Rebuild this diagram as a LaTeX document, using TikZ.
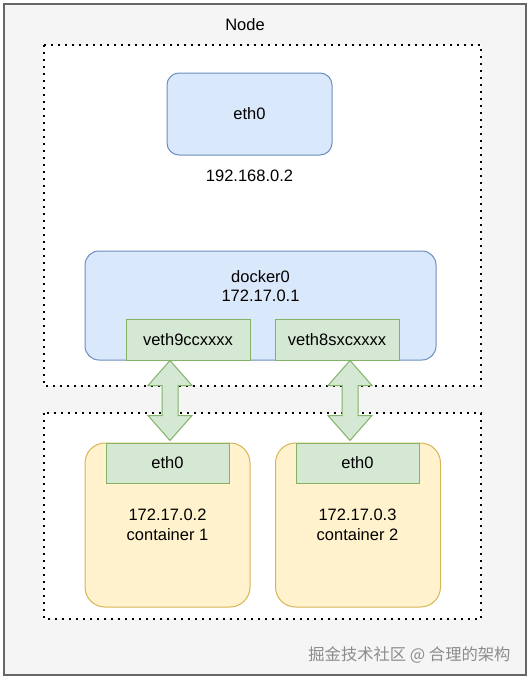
\documentclass[tikz,border=0pt]{standalone}
\usepackage{fontspec}
\setmainfont{Liberation Sans}
\newfontfamily\cjkfont{Noto Sans CJK SC}
\usetikzlibrary{positioning}
\definecolor{blueFill}{HTML}{DAE8FC}
\definecolor{blueLine}{HTML}{6C8EBF}
\definecolor{greenFill}{HTML}{D5E8D4}
\definecolor{greenLine}{HTML}{82B366}
\definecolor{yellowFill}{HTML}{FFF2CC}
\definecolor{yellowLine}{HTML}{D6B656}
\definecolor{frameFill}{HTML}{F5F5F5}
\definecolor{frameLine}{HTML}{666666}
\tikzset{
font=\fontsize{16.5}{19.5}\selectfont, % draw.io default look, scaled
hostif/.style={draw=blueLine, fill=blueFill, line width=1pt, rounded corners=12pt, minimum width=165pt, minimum height=82pt},
bridge/.style={draw=blueLine, fill=blueFill, line width=1pt, rounded corners=14pt, minimum width=351pt, minimum height=109pt},
veth/.style={draw=greenLine, fill=greenFill, line width=1pt, minimum height=41pt},
container/.style={draw=yellowLine, fill=yellowFill, line width=1pt, rounded corners=20pt, minimum width=165pt, minimum height=164pt},
zone/.style={draw=black, fill=white, line width=2.4pt, dash pattern=on 2.4pt off 4.6pt},
pipe/.style={draw=greenLine, fill=greenFill, line width=1pt, line join=miter},
}

\begin{document}
\begin{tikzpicture}[x=1pt,y=-1pt]
\useasboundingbox (0,0) rectangle (531,683);
\fill[white] (0,0) rectangle (531,683);
% outer host frame
\draw[draw=frameLine, fill=frameFill, line width=1.5pt] (4,4) rectangle (526,675);
\node (nodetitle) at (245,25) {Node};
\draw[zone] (44,45) rectangle (481,386);
\draw[zone] (44,413) rectangle (481,619);
% host side
\node[hostif] (eth0) at (249.5,114) {eth0};
\node (hostip) at (249.5,176) {192.168.0.2};
\node[bridge] (docker0) at (260.5,305.5) {};
\node[align=center] (bridgeip) at (260.5,286) {docker0\\172.17.0.1};
\node[veth, minimum width=124pt] (veth1) at (188,339.5) {veth9ccxxxx};
\node[veth, minimum width=124pt] (veth2) at (337,339.5) {veth8sxcxxxx};
% containers
\node[container] (c1) at (167.5,525) {};
\node[container] (c2) at (358,525) {};
\node[veth, minimum width=123pt, minimum height=40pt] (c1eth) at (167.5,463) {eth0};
\node[veth, minimum width=123pt, minimum height=40pt] (c2eth) at (357.5,463) {eth0};
\node[align=center] (c1ip) at (167.5,525) {172.17.0.2\\container 1};
\node[align=center] (c2ip) at (357.5,525) {172.17.0.3\\container 2};
% veth pairs
\draw[pipe] ([xshift=-18pt]veth1.south) -- ++(22,25) -- ++(-14,0) -- ++(0,30) -- ++(14,0) -- ++(-22,25) -- ++(-22,-25) -- ++(14,0) -- ++(0,-30) -- ++(-14,0) -- cycle;
\draw[pipe] ([xshift=13pt]veth2.south) -- ++(22,25) -- ++(-14,0) -- ++(0,30) -- ++(14,0) -- ++(-22,25) -- ++(-22,-25) -- ++(14,0) -- ++(0,-30) -- ++(-14,0) -- cycle;
\node[anchor=east, text=black!45, font=\cjkfont\fontsize{16.3}{19}\selectfont] (mark) at (514,655) {掘金技术社区 @ 合理的架构};
\end{tikzpicture}
\end{document}
